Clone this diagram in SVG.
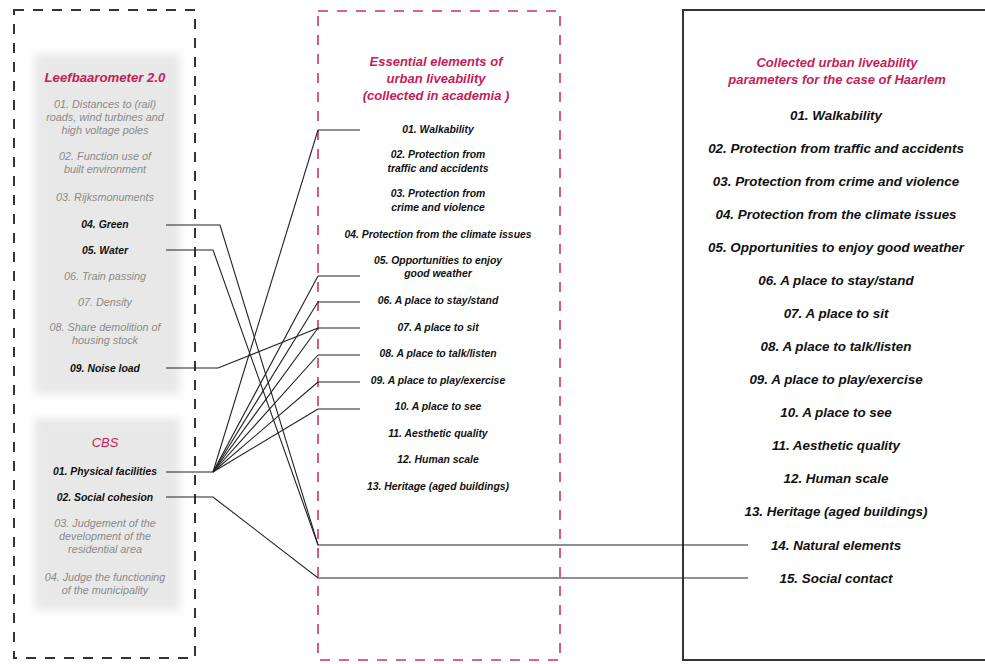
<svg xmlns="http://www.w3.org/2000/svg" width="985" height="664" viewBox="0 0 985 664">
  <defs>
    <filter id="soft" x="-10%" y="-10%" width="120%" height="120%">
      <feGaussianBlur stdDeviation="4"/>
    </filter>
    <style>
      text { font-family: "Liberation Sans", Arial, sans-serif; font-style: italic; text-anchor: middle; }
      .title { fill: #c41e5a; font-weight: bold; }
      .grey { fill: #8a8a8a; font-size: 10.8px; }
      .key { fill: #111; font-weight: bold; font-size: 10.4px; }
      .mid { fill: #111; font-weight: bold; font-size: 10.4px; }
      .big { fill: #111; font-weight: bold; font-size: 13.4px; }
      .link { fill: none; stroke: #222; stroke-width: 1.1; }
    </style>
  </defs>
  <rect width="985" height="664" fill="#ffffff"/>

  <!-- Left frame: source indicators -->
  <g id="sources-frame">
    <rect x="14" y="10" width="181" height="648" fill="none" stroke="#333" stroke-width="2" stroke-dasharray="10 9"/>
  </g>

  <!-- Leefbaarometer panel -->
  <g id="leefbaarometer">
    <rect x="34" y="54" width="146" height="340" fill="#e8e8e8" filter="url(#soft)"/>
    <text class="title" x="105" y="82" font-size="13.2">Leefbaarometer 2.0</text>
    <text class="grey" x="105" y="108">01. Distances to (rail)</text>
    <text class="grey" x="105" y="121">roads, wind turbines and</text>
    <text class="grey" x="105" y="134">high voltage poles</text>
    <text class="grey" x="105" y="160">02. Function use of</text>
    <text class="grey" x="105" y="173">built environment</text>
    <text class="grey" x="105" y="201">03. Rijksmonuments</text>
    <text class="key" x="105" y="228">04. Green</text>
    <text class="key" x="105" y="254">05. Water</text>
    <text class="grey" x="105" y="280">06. Train passing</text>
    <text class="grey" x="105" y="306">07. Density</text>
    <text class="grey" x="105" y="331">08. Share demolition of</text>
    <text class="grey" x="105" y="344">housing stock</text>
    <text class="key" x="105" y="372">09. Noise load</text>
  </g>

  <!-- CBS panel -->
  <g id="cbs">
    <rect x="34" y="418" width="146" height="192" fill="#e8e8e8" filter="url(#soft)"/>
    <text x="105" y="447" font-size="13" fill="#c41e5a">CBS</text>
    <text class="key" x="105" y="475">01. Physical facilities</text>
    <text class="key" x="105" y="501">02. Social cohesion</text>
    <text class="grey" x="105" y="527">03. Judgement of the</text>
    <text class="grey" x="105" y="540">development of the</text>
    <text class="grey" x="105" y="553">residential area</text>
    <text class="grey" x="105" y="581">04. Judge the functioning</text>
    <text class="grey" x="105" y="594">of the municipality</text>
  </g>

  <!-- Middle frame: elements from academia -->
  <g id="academia">
    <rect x="318" y="11" width="242" height="649" fill="none" stroke="#c8336a" stroke-width="1.6" stroke-dasharray="10 9"/>
    <text class="title" x="436" y="66" font-size="13">Essential elements of</text>
    <text class="title" x="436" y="83" font-size="13">urban liveability</text>
    <text class="title" x="436" y="100" font-size="13">(collected in academia )</text>
    <text class="mid" x="438" y="133">01. Walkability</text>
    <text class="mid" x="438" y="158">02. Protection from</text>
    <text class="mid" x="438" y="172">traffic and accidents</text>
    <text class="mid" x="438" y="197">03. Protection from</text>
    <text class="mid" x="438" y="211">crime and violence</text>
    <text class="mid" x="438" y="238">04. Protection from the climate issues</text>
    <text class="mid" x="438" y="264">05. Opportunities to enjoy</text>
    <text class="mid" x="438" y="277">good weather</text>
    <text class="mid" x="438" y="304">06. A place to stay/stand</text>
    <text class="mid" x="438" y="331">07. A place to sit</text>
    <text class="mid" x="438" y="357">08. A place to talk/listen</text>
    <text class="mid" x="438" y="384">09. A place to play/exercise</text>
    <text class="mid" x="438" y="410">10. A place to see</text>
    <text class="mid" x="438" y="437">11. Aesthetic quality</text>
    <text class="mid" x="438" y="463">12. Human scale</text>
    <text class="mid" x="438" y="490">13. Heritage (aged buildings)</text>
  </g>

  <!-- Right frame: parameters for Haarlem -->
  <g id="haarlem">
    <path d="M995 10 H683 V660 H995" fill="none" stroke="#333" stroke-width="2"/>
    <text class="title" x="837" y="67" font-size="13">Collected urban liveability</text>
    <text class="title" x="837" y="84" font-size="13">parameters for the case of Haarlem</text>
    <text class="big" x="836" y="120">01. Walkability</text>
    <text class="big" x="836" y="153">02. Protection from traffic and accidents</text>
    <text class="big" x="836" y="186">03. Protection from crime and violence</text>
    <text class="big" x="836" y="219">04. Protection from the climate issues</text>
    <text class="big" x="836" y="252">05. Opportunities to enjoy good weather</text>
    <text class="big" x="836" y="285">06. A place to stay/stand</text>
    <text class="big" x="836" y="318">07. A place to sit</text>
    <text class="big" x="836" y="351">08. A place to talk/listen</text>
    <text class="big" x="836" y="384">09. A place to play/exercise</text>
    <text class="big" x="836" y="417">10. A place to see</text>
    <text class="big" x="836" y="450">11. Aesthetic quality</text>
    <text class="big" x="836" y="483">12. Human scale</text>
    <text class="big" x="836" y="516">13. Heritage (aged buildings)</text>
    <text class="big" x="836" y="550">14. Natural elements</text>
    <text class="big" x="836" y="583">15. Social contact</text>
  </g>

  <!-- Connectors -->
  <g id="connectors" class="link">
    <!-- Green, Water -> Natural elements -->
    <polyline class="link" points="166,225 220,225 318,545 748,545"/>
    <polyline class="link" points="166,250 213,250 318,545"/>
    <!-- Social cohesion -> Social contact -->
    <polyline class="link" points="166,497 213,497 318,578 748,578"/>
    <!-- Noise load -> A place to sit -->
    <polyline class="link" points="166,368 218,368 318,328"/>
    <!-- Physical facilities fan -->
    <polyline class="link" points="166,472 213,472"/>
    <line class="link" x1="213" y1="472" x2="318" y2="130"/>
    <line class="link" x1="213" y1="472" x2="318" y2="276"/>
    <line class="link" x1="213" y1="472" x2="318" y2="302"/>
    <line class="link" x1="213" y1="472" x2="318" y2="328"/>
    <line class="link" x1="213" y1="472" x2="318" y2="355"/>
    <line class="link" x1="213" y1="472" x2="318" y2="382"/>
    <line class="link" x1="213" y1="472" x2="318" y2="409"/>
    <!-- stubs into academic elements -->
    <line class="link" x1="318" y1="130" x2="360" y2="130"/>
    <line class="link" x1="318" y1="276" x2="360" y2="276"/>
    <line class="link" x1="318" y1="302" x2="360" y2="302"/>
    <line class="link" x1="318" y1="328" x2="360" y2="328"/>
    <line class="link" x1="318" y1="355" x2="360" y2="355"/>
    <line class="link" x1="318" y1="382" x2="360" y2="382"/>
    <line class="link" x1="318" y1="409" x2="360" y2="409"/>
  </g>
</svg>
